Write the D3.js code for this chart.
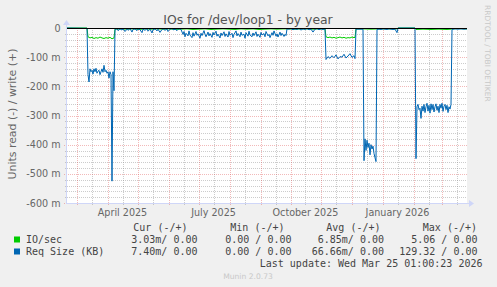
<!DOCTYPE html>
<html>
<head>
<meta charset="utf-8">
<script src="https://cdn.jsdelivr.net/npm/d3@7"></script>
<style>
  body { margin: 0; background: #f0f0f0; }
  svg { display: block; }
  text { font-family: "DejaVu Sans", sans-serif; }
  .mono { font-family: "DejaVu Sans Mono", monospace; font-size: 10px; fill: #444; white-space: pre; }
</style>
</head>
<body>
<div id="chart"></div>
<script>
'use strict';

// values are read (-) in milli units, [day offset from graph start, value]
const ioRead = [
    [0, 0], [20, 0], [21, -30], [23, -34], [25, -32], [27, -36], [29, -33], [31, -35], [33, -31],
    [35, -34], [37, -36], [39, -33], [41, -35], [43, -32], [45, -37], [47, -34], [48, -4],
    [54, -3], [60, -4], [66, -3], [72, -5], [78, -3], [84, -4], [90, -3], [96, -4], [102, -3],
    [108, -5], [114, -4], [120, -3], [126, -5], [132, -4], [138, -3], [144, -5], [150, -4],
    [156, -3], [162, -4], [168, -5], [174, -3], [180, -4], [186, -3], [192, -5], [198, -4],
    [204, -3], [210, -4], [216, -3], [222, -3], [228, -4], [234, -3], [240, -3], [246, -4],
    [252, -3], [258, -3], [259, -30], [261, -33], [263, -31], [265, -34], [267, -32], [269, -35],
    [271, -33], [273, -31], [275, -34], [277, -32], [279, -35], [281, -33], [283, -34], [285, -31],
    [287, -33], [288, -32], [289, -3], [296, -3], [304, -4], [312, -3], [320, -3], [330, -3],
    [331, 0], [348, 0], [349, -5], [356, -4], [364, -5], [372, -4], [380, -5], [384, -4],
    [385, -3], [392, -2], [400, -3]
];

const reqRead = [
    [0, 0], [20, -1], [21, -160], [22, -185], [23, -140], [24, -150], [25, -145], [26, -158],
    [27, -140], [28, -150], [29, -138], [30, -155], [31, -148], [32, -145], [33, -160], [34, -150],
    [35, -140], [36, -152], [37, -128], [38, -150], [39, -145], [40, -155], [41, -150], [42, -172],
    [43, -150], [44, -160], [45, -525], [46, -150], [47, -215], [48, -5],
    [50, -2], [51, -9], [53, -3], [55, -7], [56, -2], [58, -12], [60, -4], [61, -8], [63, -2],
    [65, -14], [66, -5], [68, -3], [70, -9], [71, -2], [73, -6], [75, -16], [76, -4], [78, -8],
    [80, -2], [81, -11], [83, -4], [85, -17], [86, -6], [88, -3], [90, -10], [91, -4], [93, -15],
    [95, -5], [96, -2], [98, -8], [100, -3], [101, -12], [103, -4], [105, -2], [107, -7],
    [108, -3], [110, -9], [112, -2], [114, -5],
    [116, -22], [117, -12], [118, -30], [119, -18], [121, -27], [122, -10], [123, -24], [125, -33],
    [126, -16], [127, -28], [129, -12], [130, -25], [131, -20], [133, -35], [134, -18], [135, -26],
    [137, -9], [138, -22], [139, -30], [141, -14], [142, -27], [143, -19], [145, -32], [146, -15],
    [147, -24], [149, -11], [150, -28], [151, -21], [153, -34], [154, -17], [155, -26], [157, -13],
    [158, -29], [159, -20], [161, -31], [162, -12], [163, -25], [165, -18], [166, -33], [167, -22],
    [169, -10], [170, -27], [171, -19], [173, -30], [174, -14], [175, -25], [177, -21], [178, -35],
    [179, -16], [181, -28], [182, -11], [183, -24], [185, -30], [186, -17], [187, -26], [189, -13],
    [190, -29], [191, -21], [193, -32], [194, -15], [195, -24], [197, -19], [198, -30], [199, -12],
    [201, -27], [202, -22], [203, -33], [205, -16], [206, -25], [207, -10], [209, -28], [210, -20],
    [211, -31], [213, -14], [214, -26], [215, -18], [217, -29], [218, -22], [219, -26], [220, -3],
    [222, -4], [224, -2], [226, -6], [228, -3], [230, -5], [232, -2], [234, -7], [236, -3],
    [238, -5], [240, -2], [242, -6], [244, -4], [246, -14], [248, -4], [250, -2], [252, -6],
    [254, -3], [256, -5], [258, -3],
    [259, -108], [261, -98], [263, -104], [265, -95], [267, -102], [269, -92], [271, -106],
    [273, -98], [275, -100], [277, -90], [279, -103], [281, -96], [283, -88], [285, -101],
    [287, -95], [288, -105], [289, -4], [296, -4],
    [297, -455], [298, -380], [299, -420], [300, -385], [301, -410], [302, -395], [303, -435],
    [304, -400], [305, -415], [306, -405], [307, -430], [308, -445], [309, -458], [310, -5],
    [312, -4], [314, -5], [316, -3], [318, -4], [320, -5], [322, -3], [324, -4], [326, -5],
    [328, -4], [330, -16], [331, 0], [348, 0],
    [349, -448], [350, -270], [351, -262], [352, -280], [353, -275], [354, -310], [355, -268],
    [356, -285], [357, -262], [358, -290], [359, -270], [360, -258], [361, -285], [362, -265],
    [363, -292], [364, -260], [365, -280], [366, -262], [367, -288], [368, -270], [369, -260],
    [370, -282], [371, -268], [372, -290], [373, -262], [374, -275], [375, -258], [376, -286],
    [377, -268], [378, -262], [379, -280], [380, -265], [381, -290], [382, -270], [383, -278],
    [384, -262], [385, -5], [388, -3], [391, -4], [394, -3], [397, -4], [400, -3]
];

const yTicks = [0, -100, -200, -300, -400, -500, -600];
const yTickLabels = ["0", "-100 m", "-200 m", "-300 m", "-400 m", "-500 m", "-600 m"];
const xLabelMonths = ["April 2025", "July 2025", "October 2025", "January 2026"];

const legendNames = ["IO/sec", "Req Size (KB)"];
const legendColors = ["#00cc00", "#0066b3"];
const legendCur = ["3.03m/ 0.00", "7.40m/ 0.00"];
const legendMin = ["0.00 / 0.00", "0.00 / 0.00"];
const legendAvg = ["6.85m/ 0.00", "66.66m/ 0.00"];
const legendMax = ["5.06 / 0.00", "129.32 / 0.00"];

const W = 497, H = 287;
const plot = { left: 67, right: 467, top: 28, bottom: 203 };

const startTime = Date.UTC(2025, 1, 19, 12, 0, 0);
const endTime = startTime + 400 * 864e5;
const dayDate = (d) => new Date(startTime + d * 864e5);

const svg = d3.select("#chart").append("svg")
    .attr("width", W)
    .attr("height", H);

svg.append("rect").attr("width", W).attr("height", H).attr("fill", "#f0f0f0");

const x = d3.scaleUtc()
    .domain([new Date(startTime), new Date(endTime)])
    .range([plot.left, plot.right]);

const y = d3.scaleLinear()
    .domain([-600, 0])
    .range([plot.bottom, plot.top]);

// canvas
svg.append("rect")
    .attr("x", plot.left).attr("y", plot.top)
    .attr("width", plot.right - plot.left).attr("height", plot.bottom - plot.top)
    .attr("fill", "#ffffff");

const gridColor = "rgba(143,143,143,0.45)";
const mgridColor = "rgba(222,79,79,0.4)";

// minor horizontal grid every 20m
const yMinor = d3.range(-600, 1, 20).filter(v => v % 100 !== 0);
svg.append("g").selectAll("line").data(yMinor).join("line")
    .attr("x1", plot.left - 2).attr("x2", plot.right)
    .attr("y1", d => Math.round(y(d)) + 0.5).attr("y2", d => Math.round(y(d)) + 0.5)
    .attr("stroke", gridColor).attr("stroke-dasharray", "1,1");

// minor vertical grid at mid month
const midMonths = d3.utcMonth.range(d3.utcMonth.floor(new Date(startTime)), new Date(endTime))
    .map(m => d3.utcDay.offset(m, 15))
    .filter(d => d > startTime && d < endTime);
svg.append("g").selectAll("line").data(midMonths).join("line")
    .attr("x1", d => Math.round(x(d)) + 0.5).attr("x2", d => Math.round(x(d)) + 0.5)
    .attr("y1", plot.top).attr("y2", plot.bottom + 2)
    .attr("stroke", gridColor).attr("stroke-dasharray", "1,1");

// major horizontal grid
svg.append("g").selectAll("line").data(yTicks.filter(v => v !== 0)).join("line")
    .attr("x1", plot.left - 3).attr("x2", plot.right)
    .attr("y1", d => Math.round(y(d)) + 0.5).attr("y2", d => Math.round(y(d)) + 0.5)
    .attr("stroke", mgridColor).attr("stroke-dasharray", "1,1");

// major vertical grid at month starts
const months = d3.utcMonth.range(new Date(startTime), new Date(endTime));
svg.append("g").selectAll("line").data(months).join("line")
    .attr("x1", d => Math.round(x(d)) + 0.5).attr("x2", d => Math.round(x(d)) + 0.5)
    .attr("y1", plot.top).attr("y2", plot.bottom + 3)
    .attr("stroke", mgridColor).attr("stroke-dasharray", "1,1");

// axes
const axisColor = "#cfd6f8";
svg.append("line")
    .attr("x1", plot.left - 1).attr("x2", plot.right + 4)
    .attr("y1", plot.bottom + 0.5).attr("y2", plot.bottom + 0.5)
    .attr("stroke", axisColor);
svg.append("line")
    .attr("x1", plot.left - 0.5).attr("x2", plot.left - 0.5)
    .attr("y1", plot.bottom + 1).attr("y2", plot.top - 5)
    .attr("stroke", axisColor);
svg.append("path")
    .attr("d", `M${plot.right + 2},${plot.bottom - 3} L${plot.right + 7},${plot.bottom + 0.5} L${plot.right + 2},${plot.bottom + 4} Z`)
    .attr("fill", axisColor);
svg.append("path")
    .attr("d", `M${plot.left - 4},${plot.top - 3} L${plot.left - 0.5},${plot.top - 8} L${plot.left + 3},${plot.top - 3} Z`)
    .attr("fill", axisColor);

// y tick labels
svg.append("g").selectAll("text").data(yTicks).join("text")
    .attr("x", 60.5)
    .attr("y", d => y(d) + 3.5)
    .attr("text-anchor", "end")
    .style("font-size", "9.6px")
    .attr("fill", "#666")
    .text((d, i) => yTickLabels[i]);

// x labels, centred mid month every 3 months
const labelDates = [Date.UTC(2025, 3, 16), Date.UTC(2025, 6, 16), Date.UTC(2025, 9, 16), Date.UTC(2026, 0, 16)];
svg.append("g").selectAll("text").data(labelDates).join("text")
    .attr("x", d => x(new Date(d)))
    .attr("y", 215.5)
    .attr("text-anchor", "middle")
    .style("font-size", "9.6px")
    .attr("fill", "#666")
    .text((d, i) => xLabelMonths[i]);

// data lines
const line = d3.line()
    .x(d => x(dayDate(d[0])))
    .y(d => y(d[1]));

svg.append("path").datum(ioRead)
    .attr("d", line).attr("fill", "none")
    .attr("stroke", legendColors[0]).attr("stroke-width", 1);

svg.append("path").datum(reqRead)
    .attr("d", line).attr("fill", "none")
    .attr("stroke", legendColors[1]).attr("stroke-width", 1);

// zero line
svg.append("line")
    .attr("x1", plot.left).attr("x2", plot.right)
    .attr("y1", y(0) + 0.5).attr("y2", y(0) + 0.5)
    .attr("stroke", "#000");

// title
svg.append("text")
    .attr("x", 248).attr("y", 23.5)
    .attr("text-anchor", "middle")
    .style("font-size", "12.4px")
    .attr("fill", "#555")
    .text("IOs for /dev/loop1 - by year");

// y axis title
svg.append("text")
    .attr("transform", "translate(15.5,114) rotate(-90)")
    .attr("text-anchor", "middle")
    .style("font-size", "10.9px")
    .attr("fill", "#666")
    .text("Units read (-) / write (+)");

// rrdtool credit
svg.append("text")
    .attr("transform", "translate(485,5) rotate(90)")
    .style("font-size", "7.5px")
    .attr("fill", "#c8c8c8")
    .text("RRDTOOL / TOBI OETIKER");

// legend
const lg = svg.append("g");
const headers = [["Cur (-/+)", 187.5], ["Min (-/+)", 284.5], ["Avg (-/+)", 380.5], ["Max (-/+)", 477]];
lg.selectAll(".hdr").data(headers).join("text")
    .attr("class", "mono hdr")
    .attr("x", d => d[1]).attr("y", 231)
    .attr("text-anchor", "end")
    .text(d => d[0]);

legendNames.forEach((name, i) => {
    const by = 243 + i * 12;
    lg.append("rect")
        .attr("x", 14).attr("y", by - 6.5)
        .attr("width", 6).attr("height", 6)
        .attr("fill", legendColors[i]);
    lg.append("text").attr("class", "mono").attr("x", 26).attr("y", by).text(name);
    lg.append("text").attr("class", "mono").attr("x", 197.5).attr("y", by).attr("text-anchor", "end").text(legendCur[i]);
    lg.append("text").attr("class", "mono").attr("x", 291.5).attr("y", by).attr("text-anchor", "end").text(legendMin[i]);
    lg.append("text").attr("class", "mono").attr("x", 384).attr("y", by).attr("text-anchor", "end").text(legendAvg[i]);
    lg.append("text").attr("class", "mono").attr("x", 477.5).attr("y", by).attr("text-anchor", "end").text(legendMax[i]);
});

lg.append("text").attr("class", "mono")
    .attr("x", 482.5).attr("y", 267)
    .attr("text-anchor", "end")
    .text("Last update: Wed Mar 25 01:00:23 2026");

svg.append("text")
    .attr("x", 248).attr("y", 279)
    .attr("text-anchor", "middle")
    .style("font-size", "7.6px")
    .attr("fill", "#c8c8c8")
    .text("Munin 2.0.73");
</script>
</body>
</html>
